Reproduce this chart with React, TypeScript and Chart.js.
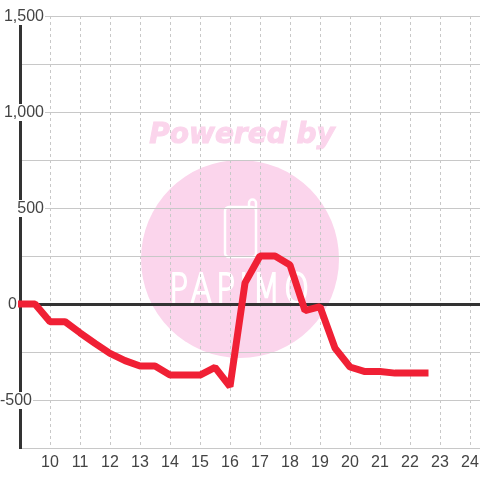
import React, { useEffect, useRef } from "react";
import { Chart, registerables } from "chart.js";

Chart.register(...registerables);

const hours = [9, 9.5, 10, 10.5, 11, 11.5, 12, 12.5, 13, 13.5, 14, 14.5, 15, 15.5, 16, 16.5, 17, 17.5, 18, 18.5, 19, 19.5, 20, 20.5, 21, 21.5, 22, 22.5];
const values = [0, 0, -92, -92, -150, -205, -257, -295, -323, -323, -370, -370, -370, -330, -430, 110, 250, 250, 203, -35, -14, -230, -328, -352, -352, -360, -360, -360];
const yTickLabels = [
  { value: 1500, text: "1,500", right: 44 },
  { value: 1000, text: "1,000", right: 44 },
  { value: 500, text: "500", right: 44 },
  { value: 0, text: "0", right: 17 },
  { value: -500, text: "-500", right: 32 },
];
const watermarkTitle = "Powered by";
const watermarkName = "PAPIMO";

const watermark = {
  id: "watermark",
  beforeDraw(chart: any) {
    const c = chart.ctx;
    c.save();
    c.fillStyle = "#fbd5ec";
    c.beginPath();
    c.arc(240, 259, 99, 0, Math.PI * 2);
    c.fill();
    c.font = "italic bold 28px 'DejaVu Sans'";
    c.textAlign = "center";
    c.textBaseline = "middle";
    c.strokeStyle = "#fbd5ec";
    c.lineWidth = 1;
    c.fillText(watermarkTitle, 242, 136);
    c.strokeText(watermarkTitle, 242, 136);
    c.strokeStyle = "#ffffff";
    c.lineWidth = 2.5;
    c.beginPath();
    c.roundRect(225, 207, 31, 50, 4);
    c.moveTo(249, 207);
    c.lineTo(249, 203);
    c.arc(252.5, 203, 3.5, Math.PI, 0);
    c.lineTo(256, 212);
    c.stroke();
    c.save();
    c.translate(241, 303);
    c.scale(0.78, 1);
    c.font = "200 41px 'DejaVu Sans'";
    c.textBaseline = "alphabetic";
    (c as any).letterSpacing = "5px";
    c.fillStyle = "#ffffff";
    c.strokeStyle = "#ffffff";
    c.lineWidth = 1.8;
    c.fillText(watermarkName, 0, 0);
    c.strokeText(watermarkName, 0, 0);
    c.restore();
    c.restore();
  },
};

const yLabels = {
  id: "yLabels",
  afterDatasetsDraw(chart: any) {
    const c = chart.ctx;
    const y = chart.scales.y;
    c.save();
    c.font = "16px 'Liberation Sans'";
    c.textAlign = "right";
    c.textBaseline = "middle";
    for (const t of yTickLabels) {
      const py = y.getPixelForValue(t.value);
      const w = c.measureText(t.text).width;
      c.fillStyle = "#ffffff";
      c.fillRect(t.right - w, py - 8, w + 1, 17);
      c.fillStyle = "#444444";
      c.fillText(t.text, t.right, py + 1);
    }
    c.restore();
  },
};

export default function App() {
  const ref = useRef<HTMLCanvasElement>(null);
  useEffect(() => {
    document.body.style.margin = "0";
    const chart = new Chart(ref.current!, {
      type: "line",
      data: {
        datasets: [
          {
            data: hours.map((h, i) => ({ x: h, y: values[i] })),
            borderColor: "#f02035",
            borderWidth: 7,
            pointRadius: 0,
            tension: 0,
            borderCapStyle: "square",
            borderJoinStyle: "bevel",
            clip: false,
          } as any,
        ],
      },
      options: {
        animation: false,
        responsive: false,
        devicePixelRatio: 1,
        layout: { padding: { top: 16, left: 0, right: 0, bottom: 0 } },
        plugins: { legend: { display: false }, tooltip: { enabled: false } },
        scales: {
          x: {
            type: "linear",
            min: 9,
            max: 24.333,
            afterBuildTicks: (s: any) => {
              s.ticks = [10, 11, 12, 13, 14, 15, 16, 17, 18, 19, 20, 21, 22, 23, 24].map((value) => ({ value }));
            },
            afterFit: (s: any) => {
              s.height = 32;
              s.paddingLeft = 0;
              s.paddingRight = 0;
            },
            grid: { color: "#c8c8c8", lineWidth: 1, drawTicks: false },
            border: { dash: [3, 3], color: "#c8c8c8", width: 1 },
            ticks: {
              autoSkip: false,
              maxRotation: 0,
              padding: 5,
              color: "#444444",
              font: { family: "Liberation Sans", size: 16 },
              callback: (v: any) => String(v),
            },
          },
          y: {
            min: -750,
            max: 1500,
            afterBuildTicks: (s: any) => {
              s.ticks = [-750, -500, -250, 0, 250, 500, 750, 1000, 1250, 1500].map((value) => ({ value }));
            },
            afterFit: (s: any) => {
              s.width = 20;
              s.paddingTop = 0;
              s.paddingBottom = 0;
            },
            grid: {
              drawTicks: false,
              color: (ctx: any) => (ctx.tick && ctx.tick.value === 0 ? "#333333" : "#c8c8c8"),
              lineWidth: (ctx: any) => (ctx.tick && ctx.tick.value === 0 ? 3 : 1),
            },
            border: { color: "#333333", width: 3 },
            ticks: { display: false },
          },
        },
      },
      plugins: [watermark, yLabels],
    } as any);
    return () => chart.destroy();
  }, []);
  return <canvas ref={ref} width={480} height={480} style={{ display: "block" }} />;
}
